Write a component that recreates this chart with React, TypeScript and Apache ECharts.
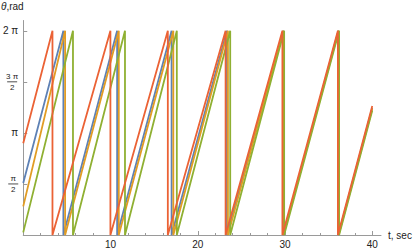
import React, { useEffect, useRef } from "react";
import * as echarts from "echarts";

const PI = Math.PI;
const TWO_PI = 2 * Math.PI;
const T_END = 40;

// Series names (Mathematica default colour order)
const seriesNames = ["oscillator 1", "oscillator 2", "oscillator 3", "oscillator 4"];
const seriesColors = ["#5E81B5", "#E19C24", "#8FB032", "#EB6235"];

// Phase at t = 0 (rad)
const startPhases = [1.6, 0.88, 0.08, 2.82];
// Times at which each phase reaches 2π and resets to 0 (sec)
const fireBlue = [4.6, 10.76, 17.0, 23.35, 29.8, 36.12];
const fireOrange = [4.8, 10.95, 17.2, 23.46, 29.82, 36.14];
const fireGreen = [5.7, 11.66, 17.6, 23.72, 29.9, 36.2];
const fireRed = [3.35, 9.99, 16.57, 23.19, 29.7, 36.06];
const fireTimes = [fireBlue, fireOrange, fireGreen, fireRed];
// Phase at t = 40 (rad)
const endPhases = [3.91, 3.89, 3.83, 3.97];

// Axis ticks
const xMajorTicks = [0, 10, 20, 30, 40];
const xMinorTicks = [2, 4, 6, 8, 12, 14, 16, 18, 22, 24, 26, 28, 32, 34, 36, 38];
const xTickLabels = [10, 20, 30, 40];
const yTickValues = [PI / 2, PI, (3 * PI) / 2, 2 * PI];
const yTickLabels = ["{n|π}\n{b|}\n{d|2}", "{p|π}", "{n|3 π}\n{b|}\n{d|2}", "{p|2 π}"];

function buildPoints(start: number, fires: number[], end: number): number[][] {
  const pts: number[][] = [[0, start]];
  fires.forEach((f) => {
    pts.push([f, TWO_PI]);
    pts.push([f, 0]);
  });
  pts.push([T_END, end]);
  return pts;
}

const FONT = "Liberation Sans, Arial, sans-serif";
const AXIS_COLOR = "#9a9a9a";
const TEXT_COLOR = "#222";

export default function App() {
  const ref = useRef<HTMLDivElement>(null);
  useEffect(() => {
    document.body.style.margin = "0";
    if (!ref.current) return;
    const chart = echarts.init(ref.current, undefined, { renderer: "svg" });
    const fracRich = {
      n: { fontSize: 8, fontFamily: FONT, color: TEXT_COLOR, lineHeight: 8, align: "center" },
      d: { fontSize: 8, fontFamily: FONT, color: TEXT_COLOR, lineHeight: 8, align: "center" },
      b: { width: 10, height: 0.8, backgroundColor: TEXT_COLOR, lineHeight: 3, align: "center" },
      p: { fontSize: 10, fontFamily: FONT, color: TEXT_COLOR },
    };
    chart.setOption({
      animation: false,
      grid: { left: 20, right: 34, top: 20.5, bottom: 16 },
      xAxis: [
        {
          type: "value",
          min: 0,
          max: 41,
          axisLine: { show: true, lineStyle: { color: AXIS_COLOR, width: 1 } },
          axisTick: { show: true, inside: true, length: 2, customValues: xMinorTicks, lineStyle: { color: AXIS_COLOR } },
          axisLabel: { show: false },
          splitLine: { show: false },
        },
        {
          type: "value",
          min: 0,
          max: 41,
          position: "bottom",
          axisLine: { show: false },
          axisTick: { show: true, inside: true, length: 4, customValues: xMajorTicks, lineStyle: { color: AXIS_COLOR } },
          axisLabel: {
            show: true,
            customValues: xTickLabels,
            margin: 4,
            fontSize: 10,
            fontFamily: FONT,
            color: TEXT_COLOR,
          },
          splitLine: { show: false },
        },
      ],
      yAxis: {
        type: "value",
        min: 0,
        max: 6.6,
        axisLine: { show: true, lineStyle: { color: AXIS_COLOR, width: 1 } },
        axisTick: { show: true, inside: true, length: 4, customValues: yTickValues, lineStyle: { color: AXIS_COLOR } },
        axisLabel: {
          show: true,
          customValues: yTickValues,
          margin: 5,
          fontSize: 10,
          fontFamily: FONT,
          color: TEXT_COLOR,
          rich: fracRich,
          formatter: (v: number) => {
            let best = 0;
            yTickValues.forEach((t, i) => {
              if (Math.abs(t - v) < Math.abs(yTickValues[best] - v)) best = i;
            });
            return yTickLabels[best];
          },
        },
        splitLine: { show: false },
      },
      graphic: [
        {
          type: "text",
          x: 1,
          y: 1,
          style: {
            text: "{i|θ},rad",
            fontSize: 10,
            fontFamily: FONT,
            fill: TEXT_COLOR,
            rich: { i: { fontStyle: "italic", fontSize: 10, fontFamily: FONT, fill: TEXT_COLOR } },
          },
        },
        {
          type: "text",
          x: 388,
          y: 235,
          style: {
            text: "t, sec",
            fontSize: 10,
            fontFamily: FONT,
            fill: TEXT_COLOR,
            verticalAlign: "middle",
          },
        },
      ],
      series: seriesNames.map((name, i) => ({
        name,
        type: "line",
        xAxisIndex: 0,
        showSymbol: false,
        symbol: "none",
        data: buildPoints(startPhases[i], fireTimes[i], endPhases[i]),
        lineStyle: { color: seriesColors[i], width: 1.8 },
        z: 2 + i,
      })),
    });
    return () => chart.dispose();
  }, []);
  return <div ref={ref} style={{ position: "absolute", left: 0, top: 0, width: 415, height: 251 }} />;
}
